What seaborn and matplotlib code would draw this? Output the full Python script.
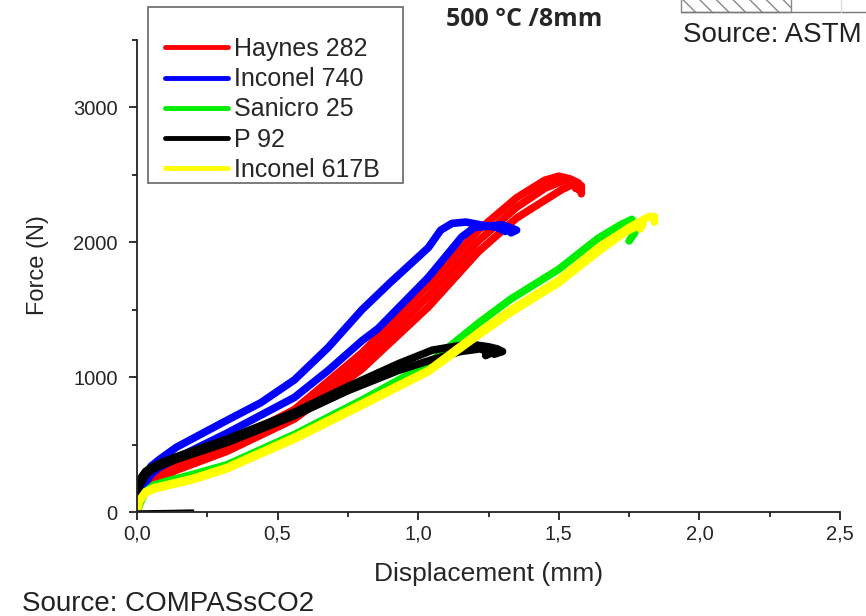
import pandas as pd
import seaborn as sns
import matplotlib.pyplot as plt
from matplotlib.lines import Line2D
from matplotlib.patches import Rectangle
from matplotlib.ticker import MultipleLocator, FuncFormatter

materials = ['Haynes 282', 'Inconel 740', 'Sanicro 25', 'P 92', 'Inconel 617B']
colors = ['#ff0000', '#0000ff', '#00ee00', '#000000', '#ffff00']

# displacement (mm) / force (N), one pair per specimen
haynes_1_d = [0.0, 0.02, 0.05, 0.08, 0.14, 0.32, 0.56, 0.80, 1.036, 1.214, 1.35, 1.45, 1.50, 1.54, 1.57, 1.57]
haynes_1_f = [80, 200, 260, 300, 360, 500, 760, 1180, 1680, 2090, 2330, 2460, 2490, 2470, 2440, 2390]
haynes_2_d = [0.0, 0.03, 0.08, 0.14, 0.32, 0.56, 0.80, 1.036, 1.214, 1.35, 1.45, 1.52, 1.55, 1.56]
haynes_2_f = [60, 190, 270, 330, 470, 720, 1120, 1600, 2010, 2260, 2400, 2460, 2450, 2400]
haynes_3_d = [0.0, 0.03, 0.08, 0.14, 0.32, 0.56, 0.80, 1.036, 1.214, 1.35, 1.51, 1.55, 1.58, 1.58]
haynes_3_f = [50, 170, 250, 310, 450, 690, 1060, 1520, 1930, 2180, 2390, 2430, 2420, 2360]

in740_1_d = [0.0, 0.02, 0.05, 0.08, 0.14, 0.32, 0.44, 0.56, 0.68, 0.80, 0.90, 1.036, 1.08, 1.12, 1.17, 1.22, 1.28, 1.31]
in740_1_f = [60, 230, 340, 390, 480, 680, 810, 980, 1220, 1500, 1700, 1960, 2090, 2140, 2150, 2130, 2110, 2080]
in740_2_d = [0.0, 0.02, 0.05, 0.08, 0.14, 0.32, 0.56, 0.68, 0.80, 0.857, 1.036, 1.155, 1.20, 1.25, 1.30, 1.35, 1.33]
in740_2_f = [40, 180, 280, 330, 400, 585, 850, 1050, 1270, 1360, 1740, 2040, 2110, 2120, 2130, 2090, 2070]

sanicro_d = [0.0, 0.01, 0.03, 0.06, 0.10, 0.20, 0.32, 0.56, 0.80, 1.036, 1.214, 1.33, 1.50, 1.64, 1.72, 1.76, 1.77, 1.75]
sanicro_f = [0, 60, 150, 200, 225, 280, 350, 575, 830, 1100, 1400, 1580, 1800, 2030, 2130, 2170, 2070, 2010]

p92_1_d = [0.0, 0.01, 0.03, 0.05, 0.08, 0.14, 0.32, 0.56, 0.75, 0.93, 1.05, 1.15, 1.20, 1.25, 1.28, 1.30, 1.27]
p92_1_f = [150, 240, 300, 330, 360, 410, 540, 740, 930, 1100, 1200, 1235, 1240, 1225, 1210, 1190, 1170]
p92_2_d = [0.0, 0.01, 0.03, 0.05, 0.08, 0.14, 0.32, 0.56, 0.75, 0.93, 1.05, 1.15, 1.22, 1.26, 1.24]
p92_2_f = [110, 200, 270, 310, 340, 390, 515, 715, 900, 1050, 1130, 1190, 1210, 1180, 1160]

in617_1_d = [0.0, 0.01, 0.03, 0.06, 0.10, 0.20, 0.32, 0.56, 0.80, 1.036, 1.214, 1.33, 1.50, 1.64, 1.75, 1.82, 1.84, 1.84]
in617_1_f = [20, 90, 150, 180, 200, 250, 330, 555, 805, 1050, 1330, 1500, 1720, 1960, 2110, 2190, 2190, 2150]
in617_2_d = [0.0, 0.01, 0.03, 0.06, 0.10, 0.20, 0.32, 0.56, 0.80, 1.036, 1.214, 1.33, 1.50, 1.64, 1.74, 1.80, 1.79]
in617_2_f = [10, 80, 140, 170, 190, 240, 320, 540, 790, 1040, 1310, 1480, 1700, 1930, 2080, 2140, 2100]

stray_d = [0.0, 0.1, 0.2]
stray_f = [5, 8, 12]

curves = [
    ('Haynes 282', 'h1', haynes_1_d, haynes_1_f),
    ('Haynes 282', 'h2', haynes_2_d, haynes_2_f),
    ('Haynes 282', 'h3', haynes_3_d, haynes_3_f),
    ('Inconel 740', 'i1', in740_1_d, in740_1_f),
    ('Inconel 740', 'i2', in740_2_d, in740_2_f),
    ('Sanicro 25', 's1', sanicro_d, sanicro_f),
    ('P 92', 'p1', p92_1_d, p92_1_f),
    ('P 92', 'p2', p92_2_d, p92_2_f),
    ('Inconel 617B', 'y1', in617_1_d, in617_1_f),
    ('Inconel 617B', 'y2', in617_2_d, in617_2_f),
]
rows = []
for mat, spec, d, f in curves:
    for x, y in zip(d, f):
        rows.append({'material': mat, 'specimen': spec, 'disp': x, 'force': y})
df = pd.DataFrame(rows)

sns.set_style('ticks')
plt.rcParams['font.family'] = ['Liberation Sans', 'DejaVu Sans']

W, H = 866, 616
fig = plt.figure(figsize=(W / 100, H / 100), dpi=100)
ax = fig.add_axes([137 / W, 1 - 512 / H, 703 / W, 472 / H])

sns.lineplot(data=df, x='disp', y='force', hue='material', units='specimen',
             estimator=None, sort=False, hue_order=materials, palette=colors,
             lw=5.5, legend=False, ax=ax, solid_capstyle='round')
sns.lineplot(x=stray_d, y=stray_f, color='k', lw=1.5, ax=ax)

ax.set_xlim(0, 2.5)
ax.set_ylim(0, 3500)
ax.xaxis.set_major_locator(MultipleLocator(0.5))
ax.xaxis.set_minor_locator(MultipleLocator(0.25))
ax.yaxis.set_major_locator(MultipleLocator(1000))
ax.yaxis.set_minor_locator(MultipleLocator(500))
ax.xaxis.set_major_formatter(FuncFormatter(lambda v, _: f'{v:.1f}'.replace('.', ',')))
sns.despine(ax=ax)
for s in ['left', 'bottom']:
    ax.spines[s].set_linewidth(1.3)
    ax.spines[s].set_color('#222222')
ax.tick_params(which='major', length=6, width=1.3, labelsize=14.5, direction='out', color='#222222')
ax.tick_params(which='minor', length=3.5, width=1.3, direction='out', color='#222222')
ax.tick_params(axis='y', which='major', pad=8)
ax.tick_params(axis='x', which='major', pad=3)
ax.set_xlabel('Displacement (mm)', fontsize=19, labelpad=13)
ax.set_ylabel('Force (N)', fontsize=17)
ax.yaxis.set_label_coords(-0.125, 0.523)

# legend frame is taller than its entries (empty band at the top)
fig.add_artist(Rectangle((148 / W, 1 - 183 / H), 255 / W, 176 / H, transform=fig.transFigure,
                         facecolor='white', edgecolor='#666666', lw=1.2, zorder=2))
handles = [Line2D([], [], color=c, lw=3.5) for c in colors]
leg = fig.legend(handles, materials, loc='upper left',
                 bbox_to_anchor=(165 / W, 1 - 37 / H), bbox_transform=fig.transFigure,
                 borderaxespad=0, borderpad=0, fontsize=18, frameon=False,
                 handlelength=2.5, handletextpad=0.28, labelspacing=0.25)
leg.set_zorder(3)

fig.text(524 / W, 1 - 20 / H, '500 °C /8mm', fontsize=18, fontweight='bold',
         family=['Open Sans', 'DejaVu Sans'], ha='center', va='center')
fig.text(683 / W, 1 - 42 / H, 'Source: ASTM', fontsize=20, ha='left', va='baseline', color='#222222')
fig.text(22 / W, 1 - 611 / H, 'Source: COMPASsCO2', fontsize=20, ha='left', va='baseline', color='#222222')

# cropped piece of another figure at the top right
fig.add_artist(Rectangle((681 / W, 1 - 12 / H), 110 / W, 14 / H, transform=fig.transFigure,
                         fill=False, hatch='\\\\', edgecolor='#888888', lw=1))
fig.add_artist(Line2D([681 / W, 1], [1 - 12 / H] * 2, transform=fig.transFigure, color='#777777', lw=1))
fig.add_artist(Line2D([841 / W] * 2, [1 - 12 / H, 1], transform=fig.transFigure, color='#dddddd', lw=1))

fig.savefig('out.png', dpi=100)
